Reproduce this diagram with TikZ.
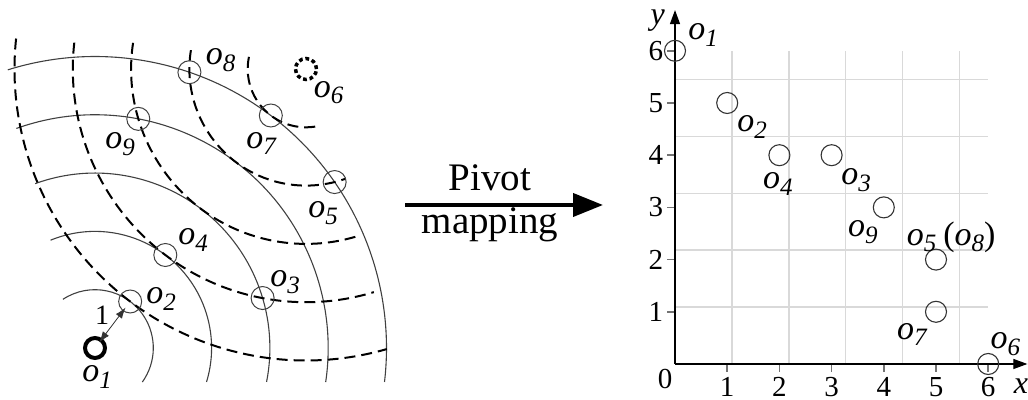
\documentclass[tikz,border=0pt]{standalone}
\usepackage{fontspec}
\setmainfont{Liberation Serif}
\usetikzlibrary{arrows.meta,calc}
\newcommand\ob[1]{{\fontsize{17}{17}\selectfont\itshape o}\raisebox{-3.2pt}{\fontsize{12.5}{12.5}\selectfont\itshape #1}}
\newcommand\bigpar[1]{{\fontsize{17}{17}\selectfont #1}}
\begin{document}
\begin{tikzpicture}[x=0.5pt,y=0.5pt,
  objc/.style={circle,draw=black!75,line width=0.5pt,minimum size=11.5pt,inner sep=0pt},
  objr/.style={circle,draw=black!80,line width=0.55pt,minimum size=10.5pt,inner sep=0pt},
  solidarc/.style={draw=black!75,line width=0.55pt},
  dasharc/.style={draw=black,line width=1pt,dash pattern=on 5.5pt off 3pt},
  lab/.style={inner sep=0pt},
  ticklab/.style={inner sep=0pt,font=\fontsize{14.5}{14.5}\selectfont},
  gridc/.style={draw=black!15,line width=0.75pt},
  tickc/.style={draw=black!55,line width=0.75pt},
  axisline/.style={draw=black,line width=0.6pt,-{Triangle[length=7pt,width=5pt]}},
  bigtext/.style={inner sep=0pt,font=\fontsize{19.5}{20}\selectfont}]
\useasboundingbox (0,0) rectangle (1028,400);

% ---------- left diagram ----------
\coordinate (c1) at (95,52);
\coordinate (c6) at ($(c1)+(52.9:349.8)$);

\foreach \a/\b/\r/\rr in {123.4/-35.7/58.3/29.15pt, 112.4/-16.95/116.6/58.3pt, 110/-11.2/174.9/87.45pt, 109.7/-8.4/233.2/116.6pt, 107.4/-6.7/291.5/145.75pt}
  \draw[solidarc] ($(c1)+(\a:\r)$) arc[start angle=\a, end angle=\b, radius=\rr];

\foreach \a/\b/\r/\rr in {168/284.2/58.3/29.15pt, 170.7/290/116.6/58.3pt, 171.4/288/174.9/87.45pt, 173.5/286.9/233.2/116.6pt, 174/286.1/291.5/145.75pt}
  \draw[dasharc] ($(c6)+(\a:\r)$) arc[start angle=\a, end angle=\b, radius=\rr];

\node[circle,draw=black,line width=2pt,minimum size=10pt,inner sep=0pt] (L1) at (c1) {};
\node[circle,draw=black,line width=1.75pt,minimum size=10.5pt,inner sep=0pt,dash pattern=on 1.9pt off 1.4pt] (L6) at (c6) {};
\node[objc] (L2) at ($(c1)+(52.9:58.3)$) {};
\node[objc] (L4) at ($(c1)+(52.9:116.6)$) {};
\node[objc] (L7) at ($(c1)+(52.9:291.5)$) {};
\node[objc] (L3) at ($(c1)+(16.6:174.9)$) {};
\node[objc] (L9) at ($(c1)+(79.3:233.2)$) {};
\node[objc] (L5) at ($(c1)+(34.7:291.5)$) {};
\node[objc] (L8) at ($(c1)+(71.1:291.5)$) {};

\draw[draw=black!80,line width=0.4pt,{Latex[length=5.5pt,width=3.8pt]}-{Latex[length=5.5pt,width=3.8pt]},shorten <=3.5pt,shorten >=3.8pt] (L1.center) -- (L2.center);
\node[lab,font=\fontsize{14}{14}\selectfont] (one) at (102,85) {1};

\node[lab] (t1) at (97,23) {\ob{1}};
\node[lab] (t2) at (161,101) {\ob{2}};
\node[lab] (t3) at (285,118) {\ob{3}};
\node[lab] (t4) at (193,160) {\ob{4}};
\node[lab] (t5) at (323,187) {\ob{5}};
\node[lab] (t6) at (328.5,307.5) {\ob{6}};
\node[lab] (t7) at (261,256.5) {\ob{7}};
\node[lab] (t8) at (220.5,340) {\ob{8}};
\node[lab] (t9) at (120,256) {\ob{9}};

% ---------- arrow ----------
\coordinate (A1) at (405,195);
\coordinate (A2) at (603,195);
\draw[line width=2pt,-{Triangle[length=15pt,width=11.5pt]}] (A1) -- (A2);
\node[bigtext] (pv) at (490,222.5) {Pivot};
\node[bigtext] (mp) at (490,175) {mapping};

% ---------- right plot ----------
\coordinate (O) at (675,36);
\begin{scope}[shift={(O)},x=26.1pt,y=26.1pt]
  \draw[gridc] (0,0) grid (6,6);
  \foreach \i in {1,...,6} {
    \draw[tickc] (\i,0) -- (\i,-0.15);
    \draw[tickc] (0,\i) -- (-0.15,\i);
    \node[ticklab,anchor=north] at (\i,-0.25) {\i};
    \node[ticklab,anchor=east] at (-0.22,\i) {\i};
  }
  \node[ticklab] (zero) at (-0.19,-0.29) {0};
  \coordinate (org) at (0,0);
  \coordinate (xend) at (6.75,0);
  \coordinate (yend) at (0,6.78);
  \draw[axisline] (org) -- (xend);
  \draw[axisline] (org) -- (yend);
  \node[lab,font=\fontsize{16}{16}\selectfont\itshape] (ylab) at (-0.33,6.57) {y};
  \node[lab,font=\fontsize{16}{16}\selectfont\itshape] (xlab) at (6.63,-0.42) {x};

  \node[objr] (R1) at (0,6) {};
  \node[objr] (R2) at (1,5) {};
  \node[objr] (R4) at (2,4) {};
  \node[objr] (R3) at (3,4) {};
  \node[objr] (R9) at (4,3) {};
  \node[objr] (R5) at (5,2) {};
  \node[objr] (R7) at (5,1) {};
  \node[objr] (R6) at (6,0) {};

  \node[lab] (r1) at (0.54,6.30) {\ob{1}};
  \node[lab] (r2) at (1.475,4.54) {\ob{2}};
  \node[lab] (r4) at (1.97,3.45) {\ob{4}};
  \node[lab] (r3) at (3.47,3.52) {\ob{3}};
  \node[lab] (r9) at (3.60,2.53) {\ob{9}};
  \node[lab] (r5) at (5.29,2.43) {\ob{5}\hspace{3.5pt}\bigpar{(}\ob{8}\bigpar{)}};
  \node[lab] (r7) at (4.54,0.56) {\ob{7}};
  \node[lab] (r6) at (6.33,0.38) {\ob{6}};
\end{scope}
\end{tikzpicture}
\end{document}
